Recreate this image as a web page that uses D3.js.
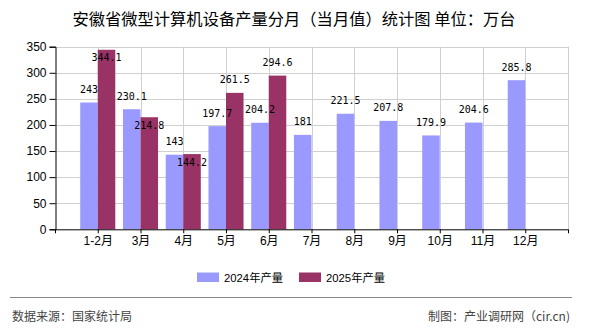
<!DOCTYPE html>
<html>
<head>
<meta charset="utf-8">
<script src="https://cdn.jsdelivr.net/npm/d3@7/dist/d3.min.js"></script>
<style>
  html, body { margin: 0; padding: 0; background: #fff; }
  svg { display: block; }
</style>
</head>
<body>
<svg id="chart" width="590" height="330"></svg>
<script>
const categories = ["1-2月", "3月", "4月", "5月", "6月", "7月", "8月", "9月", "10月", "11月", "12月"];
const seriesNames = ["2024年产量", "2025年产量"];
const values2024 = [243, 230.1, 143, 197.7, 204.2, 181, 221.5, 207.8, 179.9, 204.6, 285.8];
const values2025 = [344.1, 214.8, 144.2, 261.5, 294.6, null, null, null, null, null, null];
const yTicks = [0, 50, 100, 150, 200, 250, 300, 350];
const titleText = "安徽省微型计算机设备产量分月（当月值）统计图 单位：万台";
const sourceText = "数据来源：国家统计局";
const creditText = "制图：产业调研网（cir.cn)";

const colors = ["#9999FF", "#993366"];
const seriesValues = [values2024, values2025];

const svg = d3.select("#chart");
const plot = { left: 55, right: 568, top: 46.7, bottom: 229.3 };

const x = d3.scaleLinear().domain([0, categories.length + 1]).range([plot.left, plot.right]);
const step = x(1) - x(0);
const sub = d3.scaleBand().domain(seriesNames).range([-step * 0.41, step * 0.41]).paddingInner(0);
const y = d3.scaleLinear().domain([0, 350]).range([plot.bottom, plot.top]);

const cjk = "'Liberation Sans', Arial, 'Noto Sans CJK SC', sans-serif";

// Title
svg.append("text")
  .attr("x", 294).attr("y", 18)
  .attr("text-anchor", "middle").attr("dominant-baseline", "central")
  .attr("xml:space", "preserve")
  .style("font-family", "'Noto Sans CJK SC', sans-serif")
  .style("font-size", "16.3px").style("fill", "#000")
  .style("white-space", "pre")
  .text(titleText);

// Grid
const grid = svg.append("g");
grid.selectAll("line.h").data(yTicks.filter(d => d > 0)).join("line")
  .attr("x1", plot.left).attr("x2", plot.right)
  .attr("y1", d => Math.round(y(d)) + 0.5).attr("y2", d => Math.round(y(d)) + 0.5)
  .attr("stroke", "#d0d0d0").attr("stroke-width", 1);
grid.selectAll("line.v").data(d3.range(1, categories.length + 2)).join("line")
  .attr("x1", d => Math.round(x(d)) + 0.5).attr("x2", d => Math.round(x(d)) + 0.5)
  .attr("y1", plot.top).attr("y2", plot.bottom)
  .attr("stroke", "#d0d0d0").attr("stroke-width", 1);

// Bars
const barData = [];
categories.forEach((c, i) => {
  seriesNames.forEach((s, j) => {
    const v = seriesValues[j][i];
    if (v != null) barData.push({ c, i, s, j, v });
  });
});
svg.append("g").selectAll("rect").data(barData).join("rect")
  .attr("x", d => x(d.i + 1) + sub(d.s))
  .attr("width", sub.bandwidth())
  .attr("y", d => y(d.v))
  .attr("height", d => y(0) - y(d.v))
  .attr("fill", d => colors[d.j]);

// Axes
const yAxis = d3.axisLeft(y).tickValues(yTicks).tickSize(6).tickPadding(3);
const yg = svg.append("g").attr("transform", `translate(${plot.left + 0.5},0)`).call(yAxis);
yg.select(".domain").attr("stroke", "#000");
yg.selectAll(".tick line").attr("stroke", "#000");
yg.selectAll(".tick text").style("font-family", cjk).style("font-size", "12px").style("fill", "#000");

const xAxis = d3.axisBottom(x).tickValues(d3.range(0, categories.length + 2))
  .tickSize(4).tickPadding(3)
  .tickFormat(d => (d >= 1 && d <= categories.length) ? categories[d - 1] : "");
const xg = svg.append("g").attr("transform", `translate(0,${plot.bottom})`).call(xAxis);
xg.select(".domain").attr("stroke", "#000").attr("d", `M${plot.left},0.5H${plot.right}`);
xg.selectAll(".tick line").attr("stroke", "#000");
xg.selectAll(".tick text").style("font-family", cjk).style("font-size", "12px").style("fill", "#000");

// Data labels with simple collision avoidance
const placed = [];
const labelG = svg.append("g");
barData.forEach(d => {
  const cx = x(d.i + 1) + sub(d.s) + sub.bandwidth() / 2;
  const top = y(d.v);
  const t = labelG.append("text")
    .attr("x", cx).attr("text-anchor", "middle").attr("dominant-baseline", "central")
    .style("font-family", "'DejaVu Sans Mono', 'Liberation Mono', monospace")
    .style("font-size", "10px").style("fill", "#000")
    .text(d.v);
  const w = t.node().getComputedTextLength();
  const h = 11;
  const box = yy => ({ x0: cx - w / 2, x1: cx + w / 2, y0: yy - h / 2, y1: yy + h / 2 });
  const hit = b => placed.some(p => b.x0 < p.x1 && b.x1 > p.x0 && b.y0 < p.y1 && b.y1 > p.y0);
  let yy = top - 13;
  let b = box(yy);
  if (b.y0 < plot.top || hit(b)) { yy = top + 8; b = box(yy); }
  placed.push(b);
  t.attr("y", yy);
});

// Legend
const legend = svg.append("g");
const legendX = [197, 299];
seriesNames.forEach((s, j) => {
  legend.append("rect").attr("x", legendX[j]).attr("y", 272.5).attr("width", 22).attr("height", 9.5).attr("fill", colors[j]);
  legend.append("text").attr("x", legendX[j] + 27).attr("y", 277.5)
    .attr("dominant-baseline", "central")
    .style("font-family", cjk).style("font-size", "11.3px").style("fill", "#000")
    .text(s);
});

// Footer
svg.append("line").attr("x1", 10).attr("x2", 572).attr("y1", 297.5).attr("y2", 297.5)
  .attr("stroke", "#888").attr("stroke-width", 1.2);
svg.append("text").attr("x", 12).attr("y", 315).attr("dominant-baseline", "central")
  .style("font-family", "'Noto Sans CJK SC', sans-serif").style("font-size", "12px").style("fill", "#444")
  .text(sourceText);
svg.append("text").attr("x", 570).attr("y", 315).attr("text-anchor", "end").attr("dominant-baseline", "central")
  .style("font-family", "'Noto Sans CJK SC', sans-serif").style("font-size", "12px").style("fill", "#444")
  .text(creditText);
</script>
</body>
</html>
